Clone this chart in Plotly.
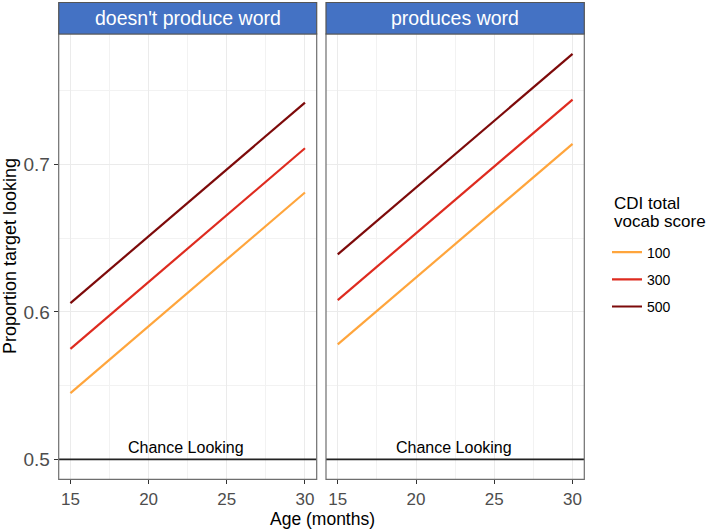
import plotly.graph_objects as go

# ---- data ----
ages = [15, 30]
panels = ["doesn't produce word", "produces word"]
vocab_levels = ["100", "300", "500"]
colors = ["#FFA53C", "#DE2B1F", "#7D0A0A"]
# predicted proportion target looking at age 15 and 30, per panel, per vocab level
no_word_100 = [0.545, 0.681]
no_word_300 = [0.575, 0.711]
no_word_500 = [0.606, 0.742]
word_100 = [0.578, 0.714]
word_300 = [0.608, 0.744]
word_500 = [0.639, 0.775]
chance = 0.5
chance_label = "Chance Looking"
chance_label_x = 22.4

x_ticks = [15, 20, 25, 30]
y_ticks = [0.5, 0.6, 0.7]

W, H = 709, 530
FONT = "Liberation Sans, Arial, sans-serif"

series = {
    panels[0]: [no_word_100, no_word_300, no_word_500],
    panels[1]: [word_100, word_300, word_500],
}

fig = go.Figure()

axis_names = [("x", "y"), ("x2", "y2")]
for pi, panel in enumerate(panels):
    xa, ya = axis_names[pi]
    for vi, vals in enumerate(series[panel]):
        fig.add_trace(go.Scatter(
            x=ages, y=vals, mode="lines",
            line=dict(color=colors[vi], width=2.2),
            name=vocab_levels[vi], legendgroup=vocab_levels[vi],
            showlegend=(pi == 0),
            xaxis=xa, yaxis=ya,
        ))
    # chance line
    fig.add_trace(go.Scatter(
        x=[14.25, 30.75], y=[chance, chance], mode="lines",
        line=dict(color="#222222", width=1.6), showlegend=False,
        hoverinfo="skip", xaxis=xa, yaxis=ya,
    ))
    fig.add_annotation(
        x=chance_label_x, y=chance, xref=xa, yref=ya,
        text=chance_label, showarrow=False, yanchor="bottom", yshift=1,
        font=dict(family=FONT, size=16, color="#000000"),
    )

dom1 = [58.7 / W, 316.7 / W]
dom2 = [326 / W, 584.3 / W]
ydom = [1 - 479.3 / H, 1 - 34 / H]
xrange = [14.25, 30.75]
yrange = [0.4865, 0.7885]

common_x = dict(
    range=xrange, tickvals=x_ticks, ticks="outside", ticklen=4, tickwidth=1,
    tickcolor="#333333", showgrid=True, gridcolor="#EBEBEB", gridwidth=1,
    minor=dict(tickvals=[17.5, 22.5, 27.5], showgrid=True, gridcolor="#F2F2F2", gridwidth=1),
    zeroline=False, showline=False,
    tickfont=dict(family=FONT, size=17, color="#4D4D4D"),
)
common_y = dict(
    range=yrange, tickvals=y_ticks, ticks="outside", ticklen=4, tickwidth=1,
    tickcolor="#333333", showgrid=True, gridcolor="#EBEBEB", gridwidth=1,
    minor=dict(tickvals=[0.55, 0.65, 0.75], showgrid=True, gridcolor="#F2F2F2", gridwidth=1),
    zeroline=False, showline=False,
    tickfont=dict(family=FONT, size=19, color="#4D4D4D"),
    domain=ydom,
)

fig.update_layout(
    width=W, height=H,
    margin=dict(l=0, r=0, t=0, b=0),
    paper_bgcolor="white", plot_bgcolor="white",
    xaxis=dict(domain=dom1, anchor="y", **common_x),
    xaxis2=dict(domain=dom2, anchor="y2", **common_x),
    yaxis=dict(anchor="x", **common_y),
    yaxis2=dict(anchor="x2", showticklabels=False, ticks="", **{k: v for k, v in common_y.items() if k not in ("ticks",)}),
    font=dict(family=FONT),
    legend=dict(
        x=607 / W, y=1 - 236.5 / H, xanchor="left", yanchor="top",
        font=dict(family=FONT, size=14, color="#000000"),
        tracegroupgap=6, itemwidth=30, bgcolor="rgba(0,0,0,0)",
    ),
)

# legend title (two tight lines)
for txt, yy in [("CDI total", 203), ("vocab score", 221)]:
    fig.add_annotation(x=612 / W, y=1 - yy / H, xref="paper", yref="paper",
                       text=txt, showarrow=False, xanchor="left", yanchor="middle",
                       font=dict(family=FONT, size=17, color="#000000"))

# panel borders and strips
for dom, label in zip([dom1, dom2], panels):
    fig.add_shape(type="rect", xref="paper", yref="paper",
                  x0=dom[0], x1=dom[1], y0=ydom[0], y1=ydom[1],
                  line=dict(color="#6E6E6E", width=1.2), fillcolor="rgba(0,0,0,0)", layer="above")
    fig.add_shape(type="rect", xref="paper", yref="paper",
                  x0=dom[0], x1=dom[1], y0=ydom[1], y1=1 - 2.5 / H,
                  line=dict(color="#555555", width=1.2), fillcolor="#4472C4", layer="above")
    fig.add_annotation(x=(dom[0] + dom[1]) / 2, y=(ydom[1] + 1 - 2.5 / H) / 2,
                       xref="paper", yref="paper", text=label, showarrow=False,
                       font=dict(family=FONT, size=19.5, color="white"),
                       xanchor="center", yanchor="middle")

# axis titles
fig.add_annotation(x=322 / W, y=1 - 518.5 / H, xref="paper", yref="paper",
                   text="Age (months)", showarrow=False,
                   font=dict(family=FONT, size=17.5, color="#000000"),
                   xanchor="center", yanchor="middle")
fig.add_annotation(x=10 / W, y=1 - 256 / H, xref="paper", yref="paper",
                   text="Proportion target looking", showarrow=False, textangle=-90,
                   font=dict(family=FONT, size=18, color="#000000"),
                   xanchor="center", yanchor="middle")

fig.write_html("out.html", config={"displayModeBar": False},
               post_script="document.body.style.margin='0px';")
